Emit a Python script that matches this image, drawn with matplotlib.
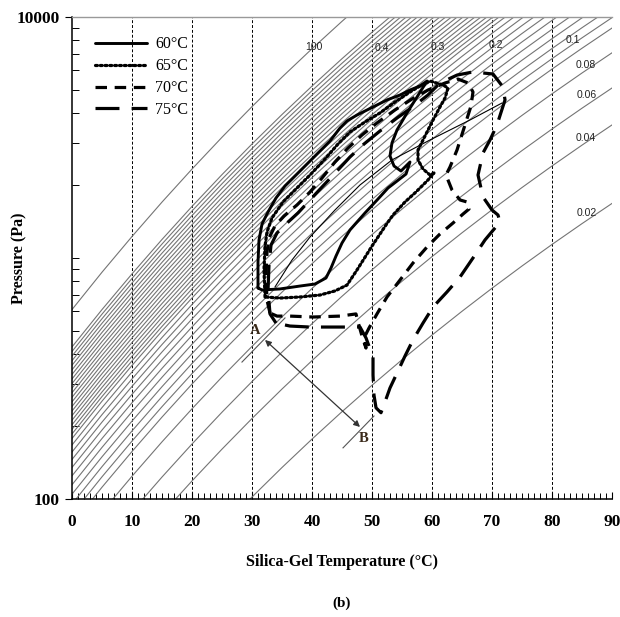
import numpy as np
import matplotlib
matplotlib.use("Agg")
import matplotlib.pyplot as plt
from matplotlib.ticker import FixedLocator, FixedFormatter, NullFormatter

# ---------------- data ----------------
# water saturation pressure (Pa) vs temperature (degC)
T_sat = [0, 5, 10, 15, 20, 25, 30, 35, 40, 45, 50, 55, 60, 65, 70, 75, 80, 85, 90]
P_sat = [611, 873, 1228, 1706, 2339, 3170, 4247, 5629, 7385, 9595, 12352,
         15763, 19947, 25043, 31202, 38597, 47416, 57868, 70183]

# isosteres: uptake (kg/kg) and relative pressure P/Psat
iso_q = [0.40, 0.39, 0.38, 0.37, 0.36, 0.35, 0.34, 0.33, 0.32, 0.31, 0.30,
         0.29, 0.28, 0.27, 0.26, 0.25, 0.24, 0.23, 0.22, 0.21, 0.20, 0.19,
         0.18, 0.17, 0.16, 0.15, 0.14, 0.13, 0.12, 0.11, 0.10, 0.08, 0.06,
         0.04, 0.02]
iso_rel = [0.6998, 0.6699, 0.6412, 0.6138, 0.5875, 0.5623, 0.5383, 0.5152,
           0.4932, 0.4721, 0.4519, 0.4325, 0.4140, 0.3963, 0.3793, 0.3631,
           0.3475, 0.3327, 0.3184, 0.3048, 0.2917, 0.2742, 0.2564, 0.2388,
           0.2213, 0.2042, 0.1875, 0.1714, 0.1560, 0.1416, 0.1282, 0.1012,
           0.0723, 0.0508, 0.0240]

iso_label_text = ['100', '0.4', '0.3', '0.2', '0.1', '0.08', '0.06', '0.04', '0.02']
iso_label_T = [40.33, 51.67, 60.92, 70.58, 83.42, 85.67, 85.83, 85.67, 85.75]
iso_label_P = [7532, 7436, 7507, 7652, 8026, 6321, 4746, 3148, 1537]

# cycle loops (silica-gel temperature degC, pressure Pa)
T60 = [31.0, 31.0, 31.17, 31.67, 32.67, 34.0, 35.5, 37.5, 40.17, 43.0, 44.67,
       45.83, 47.5, 50.17, 52.5, 54.67, 56.33, 58.0, 59.17, 58.33, 57.5, 55.83,
       54.17, 53.33, 53.0, 53.67, 54.83, 56.33, 55.67, 54.17, 52.67, 51.0,
       48.83, 46.33, 45.0, 44.0, 43.17, 42.33, 40.5, 38.0, 34.67, 31.67, 31.0]
P60 = [751, 962, 1188, 1384, 1552, 1774, 1990, 2231, 2599, 3058, 3463, 3703,
       3920, 4232, 4527, 4746, 4977, 5173, 5425, 5025, 4655, 3999, 3400, 3002,
       2650, 2408, 2296, 2502, 2231, 2086, 1952, 1757, 1537, 1307, 1154, 1019,
       909, 826, 780, 765, 744, 737, 751]

T65 = [32.17, 32.0, 32.17, 32.5, 33.33, 35.17, 37.17, 39.67, 42.17, 44.33,
       46.33, 48.83, 51.33, 53.83, 56.33, 58.0, 59.67, 61.83, 62.67, 62.17,
       61.33, 60.0, 58.67, 57.67, 57.67, 58.5, 59.67, 60.33, 59.33, 57.33,
       55.5, 53.5, 52.33, 50.0, 47.5, 45.83, 43.83, 41.33, 38.0, 34.67, 32.17]
P65 = [689, 892, 1121, 1282, 1466, 1708, 1916, 2210, 2575, 2972, 3334, 3667,
       3999, 4439, 4884, 5173, 5425, 5222, 5075, 4612, 4234, 3667, 3148, 2807,
       2552, 2340, 2210, 2253, 2107, 1879, 1708, 1508, 1371, 1121, 892, 772,
       730, 702, 689, 682, 689]

T70 = [33.0, 32.5, 32.33, 32.5, 32.83, 33.83, 35.33, 37.5, 39.67, 41.67, 43.83,
       46.0, 48.33, 50.83, 53.83, 56.67, 59.33, 62.17, 64.33, 66.0, 66.83,
       66.5, 65.5, 64.17, 63.0, 62.33, 63.33, 64.67, 65.83, 66.17, 65.17, 63.5,
       61.33, 59.17, 56.83, 54.67, 52.5, 50.83, 49.5, 48.67, 49.0, 48.33,
       47.67, 47.33, 44.67, 40.17, 36.33, 34.17, 33.0]
P70 = [591, 669, 850, 1059, 1211, 1358, 1494, 1660, 1879, 2148, 2502, 2860,
       3239, 3633, 4115, 4568, 4977, 5323, 5529, 5323, 4884, 4273, 3565, 2807,
       2386, 2210, 1916, 1741, 1708, 1597, 1522, 1397, 1258, 1111, 953, 810,
       689, 586, 512, 466, 423, 475, 543, 586, 574, 569, 574, 574, 591]

T75 = [34.0, 33.0, 32.67, 32.83, 33.17, 34.17, 35.67, 37.67, 39.67, 41.83,
       44.17, 46.33, 48.67, 51.33, 54.17, 57.0, 59.33, 61.33, 64.17, 66.83,
       70.17, 71.83, 72.17, 70.83, 69.67, 68.5, 67.67, 68.5, 70.0, 71.0, 71.33,
       70.5, 68.83, 66.83, 64.67, 62.5, 60.17, 58.5, 56.83, 55.5, 54.17, 53.0,
       52.17, 51.5, 50.67, 50.33, 50.17, 50.17, 49.0, 48.0, 44.67, 39.67,
       36.33, 34.0]
P75 = [537, 586, 737, 935, 1132, 1270, 1384, 1538, 1741, 1990, 2296, 2625,
       2972, 3365, 3810, 4273, 4746, 5323, 5741, 5916, 5800, 5125, 4527, 3565,
       3089, 2728, 2210, 1791, 1582, 1508, 1410, 1332, 1188, 1000, 834, 723,
       626, 537, 457, 392, 333, 289, 253, 228, 239, 270, 327, 388, 466, 517,
       517, 517, 522, 537]

# thin path line inside the loops
T_thin = [33.83, 36.67, 39.67, 43.83, 48.0, 53.33, 59.67, 66.33, 71.67]
P_thin = [758, 981, 1222, 1582, 2009, 2552, 3089, 3738, 4397]

# A-B annotation
A_line_T = [28.33, 35.5]
A_line_P = [370, 564]
B_line_T = [45.17, 50.33]
B_line_P = [163, 221]
arrow_A = (32.17, 457)
arrow_B = (48.0, 199)
label_A = (30.5, 498)
label_B = (48.67, 179)

x_ticks = [0, 10, 20, 30, 40, 50, 60, 70, 80, 90]
y_ticks = [100, 10000]
y_tick_labels = ['100', '10000']
grid_T = [10, 20, 30, 40, 50, 60, 70, 80, 90]

legend_labels = ['60\u00b0C', '65\u00b0C', '70\u00b0C', '75\u00b0C']

# ---------------- figure ----------------
SERIF = 'Liberation Serif'
SANS = 'Liberation Sans'

fig = plt.figure(figsize=(6.2, 6.17), dpi=100)
ax = fig.add_axes([72 / 620, 118 / 617, 540 / 620, 482 / 617])
ax.set_yscale('log')
ax.set_xlim(0, 90)
ax.set_ylim(100, 10000)

# vertical dashed grid
for t in grid_T:
    ax.axvline(t, color='black', lw=0.7, ls=(0, (3, 2)), zorder=1)

# saturation line and isosteres
iso_color = '#747474'
T_sat_a = np.array(T_sat, dtype=float)
P_sat_a = np.array(P_sat, dtype=float)
ax.plot(T_sat_a, P_sat_a, color=iso_color, lw=0.8, zorder=2)
for r in iso_rel:
    ax.plot(T_sat_a, P_sat_a * r, color=iso_color, lw=0.8, zorder=2)

for txt, t, p in zip(iso_label_text, iso_label_T, iso_label_P):
    ax.text(t, p, txt, fontsize=7.5, family=SANS, color='#222222',
            ha='center', va='center', zorder=3)

# loops
lw = 2.1
l60, = ax.plot(T60, P60, color='black', lw=lw, ls='-', zorder=5,
               solid_joinstyle='round', solid_capstyle='round', label=legend_labels[0])
l65, = ax.plot(T65, P65, color='black', lw=lw + 0.2, ls=(0, (0.6, 0.9)), zorder=5,
               dash_capstyle='round', label=legend_labels[1])
l70, = ax.plot(T70, P70, color='black', lw=lw + 0.2, ls=(0, (3.6, 2.4)), zorder=5,
               label=legend_labels[2])
l75, = ax.plot(T75, P75, color='black', lw=lw + 0.2, ls=(0, (7.5, 3.8)), zorder=5,
               label=legend_labels[3])

ax.plot(T_thin, P_thin, color='black', lw=0.8, zorder=4)

# A-B annotation
ax.plot(A_line_T, A_line_P, color='#555555', lw=0.8, zorder=3)
ax.plot(B_line_T, B_line_P, color='#555555', lw=0.8, zorder=3)
ax.annotate('', xy=arrow_B, xytext=arrow_A,
            arrowprops=dict(arrowstyle='<|-|>', color='#333333', lw=0.9,
                            mutation_scale=9, shrinkA=0, shrinkB=0), zorder=4)
ax.text(*label_A, 'A', family=SERIF, fontweight='bold', fontsize=10.5,
        color='#3a2a1a', ha='center', va='center')
ax.text(*label_B, 'B', family=SERIF, fontweight='bold', fontsize=10.5,
        color='#3a2a1a', ha='center', va='center')

# spines
ax.spines['right'].set_visible(False)
ax.spines['top'].set_color('#999999')
ax.spines['top'].set_linewidth(1.0)
for s in ('left', 'bottom'):
    ax.spines[s].set_color('black')
    ax.spines[s].set_linewidth(1.1)

# ticks
ax.xaxis.set_major_locator(FixedLocator(x_ticks))
ax.xaxis.set_minor_locator(FixedLocator(list(range(0, 91))))
ax.yaxis.set_major_locator(FixedLocator(y_ticks))
ax.yaxis.set_major_formatter(FixedFormatter(y_tick_labels))
minor_y = [200, 300, 400, 500, 600, 700, 800, 900, 1000,
           2000, 3000, 4000, 5000, 6000, 7000, 8000, 9000]
ax.yaxis.set_minor_locator(FixedLocator(minor_y))
ax.yaxis.set_minor_formatter(NullFormatter())
ax.tick_params(axis='x', which='major', direction='in', length=5, width=0.8,
               labelsize=12.5, pad=11, top=False)
ax.tick_params(axis='x', which='minor', direction='in', length=4, width=0.7, top=False)
ax.tick_params(axis='y', which='major', direction='out', length=5, width=0.8,
               labelsize=12.5, pad=4, right=False)
ax.tick_params(axis='y', which='minor', direction='in', length=5, width=0.7, right=False)
for lab in ax.get_xticklabels() + ax.get_yticklabels():
    lab.set_family(SERIF)
    lab.set_fontweight('bold')

ax.set_xlabel('Silica-Gel Temperature (\u00b0C)', family=SERIF, fontweight='bold',
              fontsize=11.5)
ax.xaxis.set_label_coords(0.5, -0.115)
ax.xaxis.label.set_va('top')
ax.set_ylabel('Pressure (Pa)', family=SERIF, fontweight='bold', fontsize=11.5)
ax.yaxis.set_label_coords(-0.082, 0.5)

fig.text(342 / 620, 1 - 603 / 617, '(b)', family=SERIF, fontweight='bold',
         fontsize=11, ha='center', va='center')

leg = ax.legend(handles=[l60, l65, l70, l75], loc='upper left',
                bbox_to_anchor=(0.042, 0.960), frameon=False, borderpad=0,
                borderaxespad=0, handlelength=3.3, handletextpad=0.5,
                labelspacing=0.37, prop={'family': SERIF, 'size': 11.5})
leg.set_zorder(6)

fig.savefig('out.png', dpi=100)
